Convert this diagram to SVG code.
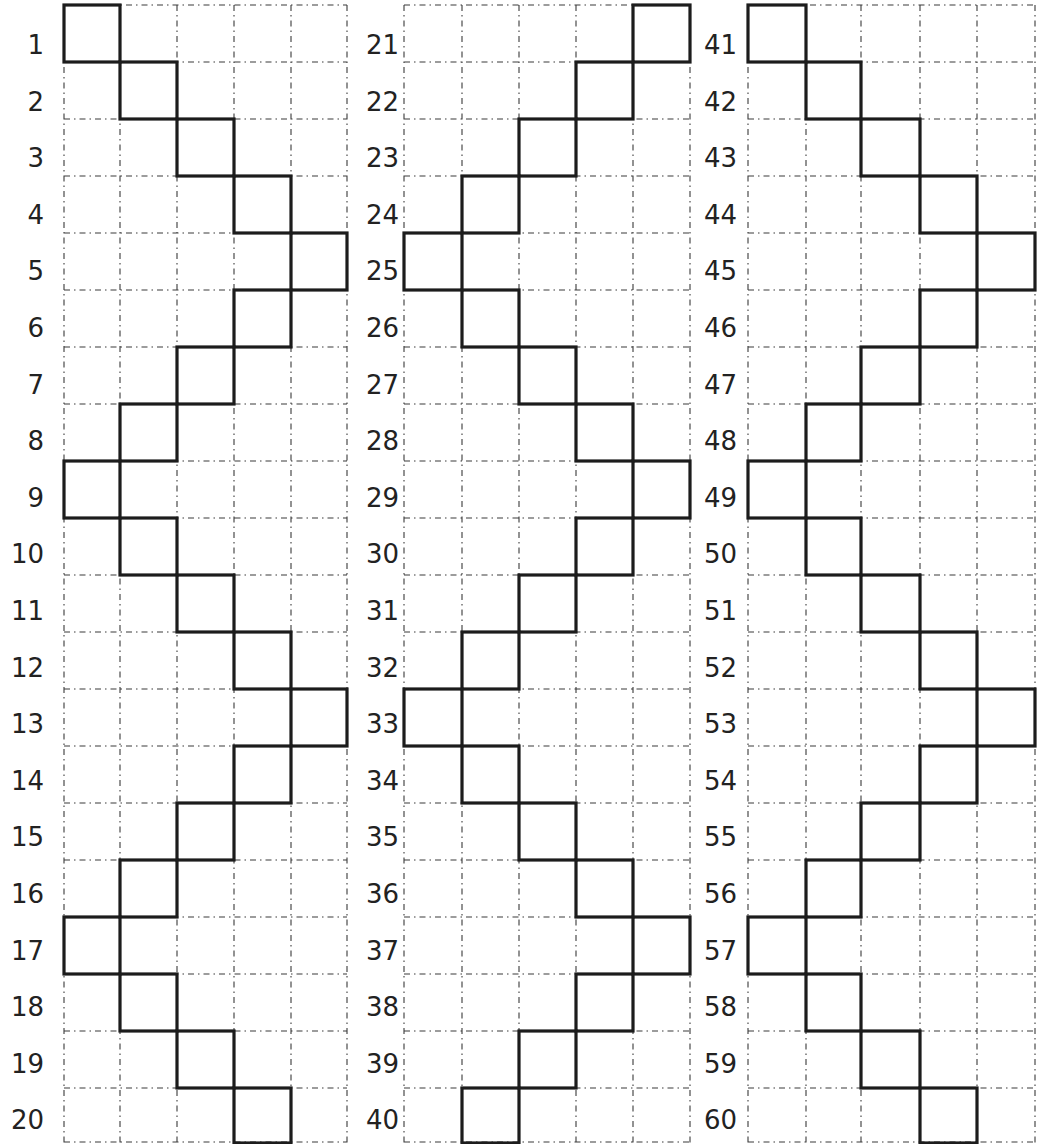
<svg xmlns="http://www.w3.org/2000/svg" width="1038" height="1144" viewBox="0 0 1038 1144">
<style>
.grid{fill:none;stroke:#3a3a3a;stroke-width:1.1;stroke-dasharray:6 4 1.5 4}
.cell{fill:none;stroke:#1c1c1c;stroke-width:3.2;stroke-linejoin:miter}
.lbl{font-family:"DejaVu Sans","Liberation Sans",sans-serif;font-size:26px;fill:#222;text-anchor:end}
</style>
<rect width="1038" height="1144" fill="#ffffff"/>
<defs>
<path id="hl1" d="M0 5H1 M0 62H1 M0 119H1 M0 176H1 M0 233H1 M0 290H1 M0 347H1 M0 404H1 M0 461H1 M0 518H1 M0 575H1 M0 632H1 M0 689H1 M0 746H1 M0 803H1 M0 860H1 M0 917H1 M0 974H1 M0 1031H1 M0 1088H1 M0 1142H1"/>
</defs>
<g id="grid">
<path class="grid" d="M64 5H347 M64 62H347 M64 119H347 M64 176H347 M64 233H347 M64 290H347 M64 347H347 M64 404H347 M64 461H347 M64 518H347 M64 575H347 M64 632H347 M64 689H347 M64 746H347 M64 803H347 M64 860H347 M64 917H347 M64 974H347 M64 1031H347 M64 1088H347 M64 1142H347 M64 5V1144 M120 5V1144 M177 5V1144 M234 5V1144 M291 5V1144 M347 5V1144"/>
<path class="grid" d="M404 5H690 M404 62H690 M404 119H690 M404 176H690 M404 233H690 M404 290H690 M404 347H690 M404 404H690 M404 461H690 M404 518H690 M404 575H690 M404 632H690 M404 689H690 M404 746H690 M404 803H690 M404 860H690 M404 917H690 M404 974H690 M404 1031H690 M404 1088H690 M404 1142H690 M404 5V1144 M462 5V1144 M519 5V1144 M576 5V1144 M633 5V1144 M690 5V1144"/>
<path class="grid" d="M748 5H1035 M748 62H1035 M748 119H1035 M748 176H1035 M748 233H1035 M748 290H1035 M748 347H1035 M748 404H1035 M748 461H1035 M748 518H1035 M748 575H1035 M748 632H1035 M748 689H1035 M748 746H1035 M748 803H1035 M748 860H1035 M748 917H1035 M748 974H1035 M748 1031H1035 M748 1088H1035 M748 1142H1035 M748 5V1144 M806 5V1144 M861 5V1144 M920 5V1144 M977 5V1144 M1035 5V1144"/>
</g>
<g id="panel1">
<g id="cell-1"><rect class="cell" x="64" y="5" width="56" height="57"/><text class="lbl" x="44" y="54">1</text></g>
<g id="cell-2"><rect class="cell" x="120" y="62" width="57" height="57"/><text class="lbl" x="44" y="110.6">2</text></g>
<g id="cell-3"><rect class="cell" x="177" y="119" width="57" height="57"/><text class="lbl" x="44" y="167.2">3</text></g>
<g id="cell-4"><rect class="cell" x="234" y="176" width="57" height="57"/><text class="lbl" x="44" y="223.8">4</text></g>
<g id="cell-5"><rect class="cell" x="291" y="233" width="56" height="57"/><text class="lbl" x="44" y="280.4">5</text></g>
<g id="cell-6"><rect class="cell" x="234" y="290" width="57" height="57"/><text class="lbl" x="44" y="337">6</text></g>
<g id="cell-7"><rect class="cell" x="177" y="347" width="57" height="57"/><text class="lbl" x="44" y="393.6">7</text></g>
<g id="cell-8"><rect class="cell" x="120" y="404" width="57" height="57"/><text class="lbl" x="44" y="450.2">8</text></g>
<g id="cell-9"><rect class="cell" x="64" y="461" width="56" height="57"/><text class="lbl" x="44" y="506.8">9</text></g>
<g id="cell-10"><rect class="cell" x="120" y="518" width="57" height="57"/><text class="lbl" x="44" y="563.4">10</text></g>
<g id="cell-11"><rect class="cell" x="177" y="575" width="57" height="57"/><text class="lbl" x="44" y="620">11</text></g>
<g id="cell-12"><rect class="cell" x="234" y="632" width="57" height="57"/><text class="lbl" x="44" y="676.6">12</text></g>
<g id="cell-13"><rect class="cell" x="291" y="689" width="56" height="57"/><text class="lbl" x="44" y="733.2">13</text></g>
<g id="cell-14"><rect class="cell" x="234" y="746" width="57" height="57"/><text class="lbl" x="44" y="789.8">14</text></g>
<g id="cell-15"><rect class="cell" x="177" y="803" width="57" height="57"/><text class="lbl" x="44" y="846.4">15</text></g>
<g id="cell-16"><rect class="cell" x="120" y="860" width="57" height="57"/><text class="lbl" x="44" y="903">16</text></g>
<g id="cell-17"><rect class="cell" x="64" y="917" width="56" height="57"/><text class="lbl" x="44" y="959.6">17</text></g>
<g id="cell-18"><rect class="cell" x="120" y="974" width="57" height="57"/><text class="lbl" x="44" y="1016.2">18</text></g>
<g id="cell-19"><rect class="cell" x="177" y="1031" width="57" height="57"/><text class="lbl" x="44" y="1072.8">19</text></g>
<g id="cell-20"><rect class="cell" x="234" y="1088" width="57" height="55"/><text class="lbl" x="44" y="1129.4">20</text></g>
</g>
<g id="panel2">
<g id="cell-21"><rect class="cell" x="633" y="5" width="57" height="57"/><text class="lbl" x="399" y="54">21</text></g>
<g id="cell-22"><rect class="cell" x="576" y="62" width="57" height="57"/><text class="lbl" x="399" y="110.6">22</text></g>
<g id="cell-23"><rect class="cell" x="519" y="119" width="57" height="57"/><text class="lbl" x="399" y="167.2">23</text></g>
<g id="cell-24"><rect class="cell" x="462" y="176" width="57" height="57"/><text class="lbl" x="399" y="223.8">24</text></g>
<g id="cell-25"><rect class="cell" x="404" y="233" width="58" height="57"/><text class="lbl" x="399" y="280.4">25</text></g>
<g id="cell-26"><rect class="cell" x="462" y="290" width="57" height="57"/><text class="lbl" x="399" y="337">26</text></g>
<g id="cell-27"><rect class="cell" x="519" y="347" width="57" height="57"/><text class="lbl" x="399" y="393.6">27</text></g>
<g id="cell-28"><rect class="cell" x="576" y="404" width="57" height="57"/><text class="lbl" x="399" y="450.2">28</text></g>
<g id="cell-29"><rect class="cell" x="633" y="461" width="57" height="57"/><text class="lbl" x="399" y="506.8">29</text></g>
<g id="cell-30"><rect class="cell" x="576" y="518" width="57" height="57"/><text class="lbl" x="399" y="563.4">30</text></g>
<g id="cell-31"><rect class="cell" x="519" y="575" width="57" height="57"/><text class="lbl" x="399" y="620">31</text></g>
<g id="cell-32"><rect class="cell" x="462" y="632" width="57" height="57"/><text class="lbl" x="399" y="676.6">32</text></g>
<g id="cell-33"><rect class="cell" x="404" y="689" width="58" height="57"/><text class="lbl" x="399" y="733.2">33</text></g>
<g id="cell-34"><rect class="cell" x="462" y="746" width="57" height="57"/><text class="lbl" x="399" y="789.8">34</text></g>
<g id="cell-35"><rect class="cell" x="519" y="803" width="57" height="57"/><text class="lbl" x="399" y="846.4">35</text></g>
<g id="cell-36"><rect class="cell" x="576" y="860" width="57" height="57"/><text class="lbl" x="399" y="903">36</text></g>
<g id="cell-37"><rect class="cell" x="633" y="917" width="57" height="57"/><text class="lbl" x="399" y="959.6">37</text></g>
<g id="cell-38"><rect class="cell" x="576" y="974" width="57" height="57"/><text class="lbl" x="399" y="1016.2">38</text></g>
<g id="cell-39"><rect class="cell" x="519" y="1031" width="57" height="57"/><text class="lbl" x="399" y="1072.8">39</text></g>
<g id="cell-40"><rect class="cell" x="462" y="1088" width="57" height="55"/><text class="lbl" x="399" y="1129.4">40</text></g>
</g>
<g id="panel3">
<g id="cell-41"><rect class="cell" x="748" y="5" width="58" height="57"/><text class="lbl" x="737" y="54">41</text></g>
<g id="cell-42"><rect class="cell" x="806" y="62" width="55" height="57"/><text class="lbl" x="737" y="110.6">42</text></g>
<g id="cell-43"><rect class="cell" x="861" y="119" width="59" height="57"/><text class="lbl" x="737" y="167.2">43</text></g>
<g id="cell-44"><rect class="cell" x="920" y="176" width="57" height="57"/><text class="lbl" x="737" y="223.8">44</text></g>
<g id="cell-45"><rect class="cell" x="977" y="233" width="58" height="57"/><text class="lbl" x="737" y="280.4">45</text></g>
<g id="cell-46"><rect class="cell" x="920" y="290" width="57" height="57"/><text class="lbl" x="737" y="337">46</text></g>
<g id="cell-47"><rect class="cell" x="861" y="347" width="59" height="57"/><text class="lbl" x="737" y="393.6">47</text></g>
<g id="cell-48"><rect class="cell" x="806" y="404" width="55" height="57"/><text class="lbl" x="737" y="450.2">48</text></g>
<g id="cell-49"><rect class="cell" x="748" y="461" width="58" height="57"/><text class="lbl" x="737" y="506.8">49</text></g>
<g id="cell-50"><rect class="cell" x="806" y="518" width="55" height="57"/><text class="lbl" x="737" y="563.4">50</text></g>
<g id="cell-51"><rect class="cell" x="861" y="575" width="59" height="57"/><text class="lbl" x="737" y="620">51</text></g>
<g id="cell-52"><rect class="cell" x="920" y="632" width="57" height="57"/><text class="lbl" x="737" y="676.6">52</text></g>
<g id="cell-53"><rect class="cell" x="977" y="689" width="58" height="57"/><text class="lbl" x="737" y="733.2">53</text></g>
<g id="cell-54"><rect class="cell" x="920" y="746" width="57" height="57"/><text class="lbl" x="737" y="789.8">54</text></g>
<g id="cell-55"><rect class="cell" x="861" y="803" width="59" height="57"/><text class="lbl" x="737" y="846.4">55</text></g>
<g id="cell-56"><rect class="cell" x="806" y="860" width="55" height="57"/><text class="lbl" x="737" y="903">56</text></g>
<g id="cell-57"><rect class="cell" x="748" y="917" width="58" height="57"/><text class="lbl" x="737" y="959.6">57</text></g>
<g id="cell-58"><rect class="cell" x="806" y="974" width="55" height="57"/><text class="lbl" x="737" y="1016.2">58</text></g>
<g id="cell-59"><rect class="cell" x="861" y="1031" width="59" height="57"/><text class="lbl" x="737" y="1072.8">59</text></g>
<g id="cell-60"><rect class="cell" x="920" y="1088" width="57" height="55"/><text class="lbl" x="737" y="1129.4">60</text></g>
</g>
</svg>
